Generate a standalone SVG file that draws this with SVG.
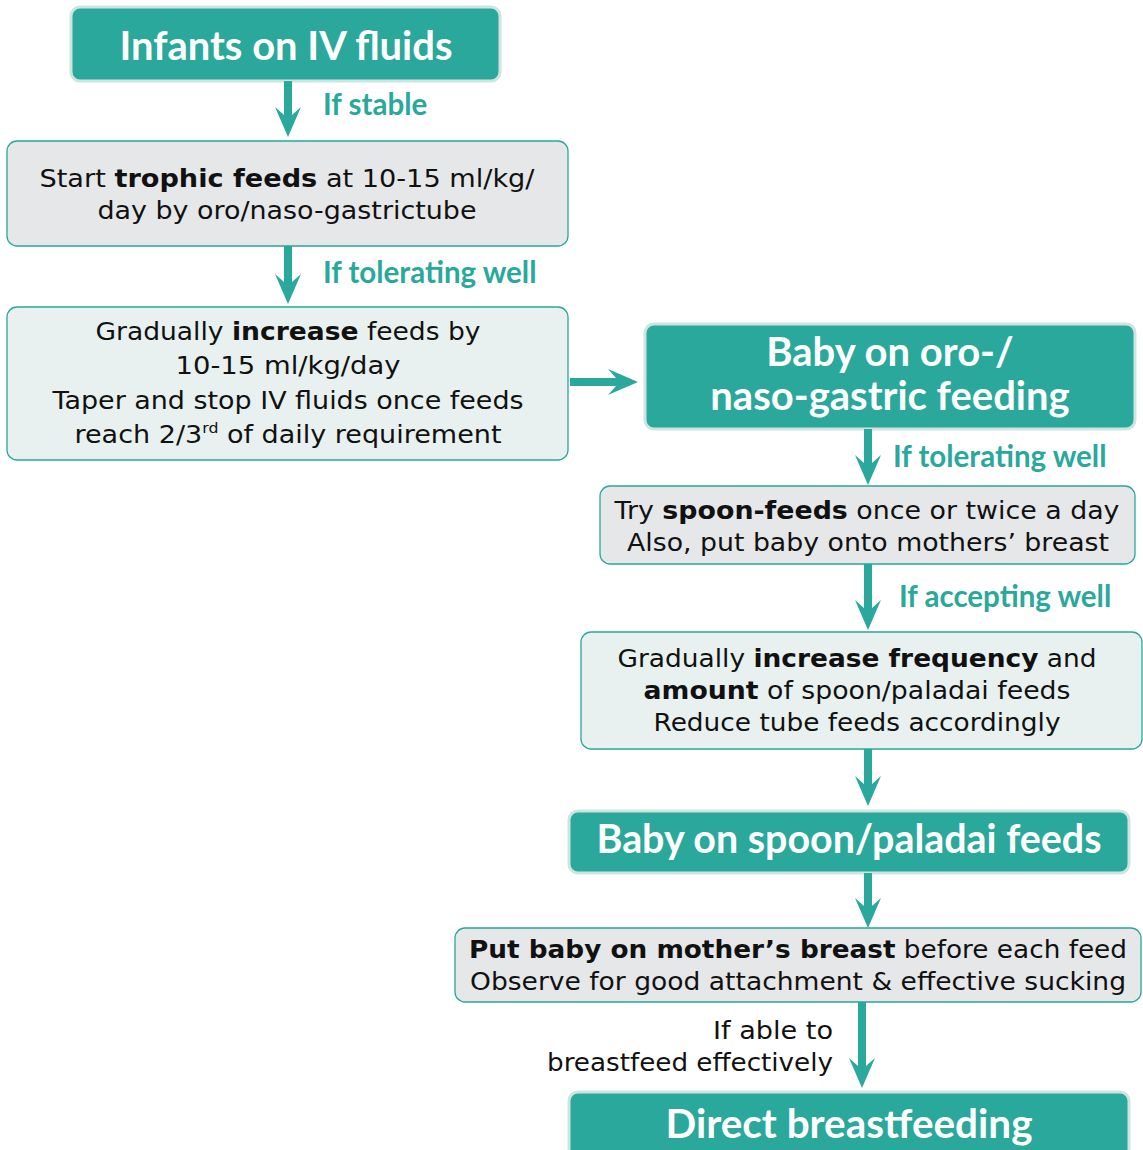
<svg xmlns="http://www.w3.org/2000/svg" width="1143" height="1150" viewBox="0 0 1143 1150">
<style>
.dark{fill:#29a89b;stroke:#cde4e1;stroke-width:3}
.grey{fill:#e6e7e9;stroke:#29a89b;stroke-width:1.3}
.light{fill:#e8f1f0;stroke:#29a89b;stroke-width:1.3}
.h{font-family:Lato,"Open Sans",sans-serif;font-weight:700;font-size:40px;fill:#ffffff;text-anchor:middle}
.b{font-family:"DejaVu Sans",Verdana,sans-serif;font-size:24px;fill:#111111;text-anchor:middle}
.bb{font-weight:700}
.lab{font-family:Lato,"Open Sans",sans-serif;font-weight:700;font-size:29.5px;fill:#29a89b}
.arr{fill:#29a89b}
.lb{font-family:"DejaVu Sans",Verdana,sans-serif;font-size:24px;fill:#111111;text-anchor:end}
</style>
<g id="n1"><rect class="dark" x="71" y="7" width="429" height="74" rx="9"/><text class="h" x="286" y="60" textLength="333" lengthAdjust="spacingAndGlyphs">Infants on IV fluids</text></g>
<g id="n2"><rect class="grey" x="7" y="141" width="561" height="105" rx="10"/>
<text class="b" x="287" y="187" textLength="495" lengthAdjust="spacingAndGlyphs">Start <tspan class="bb">trophic feeds</tspan> at 10-15 ml/kg/</text>
<text class="b" x="287" y="219" textLength="379" lengthAdjust="spacingAndGlyphs">day by oro/naso-gastrictube</text></g>
<g id="n3"><rect class="light" x="7" y="307" width="561" height="153" rx="10"/>
<text class="b" x="288" y="340" textLength="385" lengthAdjust="spacingAndGlyphs">Gradually <tspan class="bb">increase</tspan> feeds by</text>
<text class="b" x="288" y="374" textLength="225" lengthAdjust="spacingAndGlyphs">10-15 ml/kg/day</text>
<text class="b" x="288" y="409" textLength="471" lengthAdjust="spacingAndGlyphs">Taper and stop IV fluids once feeds</text>
<text class="b" x="288" y="443" textLength="427" lengthAdjust="spacingAndGlyphs">reach 2/3<tspan font-size="14" dy="-10">rd</tspan><tspan dy="10"> of daily requirement</tspan></text></g>
<g id="n4"><rect class="dark" x="645" y="324" width="490" height="105" rx="9"/>
<text class="h" x="890" y="366">Baby on oro-/</text>
<text class="h" x="890" y="410">naso-gastric feeding</text></g>
<g id="n5"><rect class="grey" x="600" y="486" width="535" height="78" rx="10"/>
<text class="b" x="867" y="519" textLength="505" lengthAdjust="spacingAndGlyphs">Try <tspan class="bb">spoon-feeds</tspan> once or twice a day</text>
<text class="b" x="868" y="551" textLength="482" lengthAdjust="spacingAndGlyphs">Also, put baby onto mothers’ breast</text></g>
<g id="n6"><rect class="light" x="581" y="632" width="561" height="117" rx="10"/>
<text class="b" x="857" y="667" textLength="479" lengthAdjust="spacingAndGlyphs">Gradually <tspan class="bb">increase frequency</tspan> and</text>
<text class="b" x="857" y="699" textLength="427" lengthAdjust="spacingAndGlyphs"><tspan class="bb">amount</tspan> of spoon/paladai feeds</text>
<text class="b" x="857" y="731" textLength="407" lengthAdjust="spacingAndGlyphs">Reduce tube feeds accordingly</text></g>
<g id="n7"><rect class="dark" x="569" y="811" width="560" height="62" rx="9"/>
<text class="h" x="849" y="853" textLength="505" lengthAdjust="spacingAndGlyphs">Baby on spoon/paladai feeds</text></g>
<g id="n8"><rect class="grey" x="455" y="928" width="686" height="74" rx="10"/>
<text class="b" x="798" y="958" textLength="658" lengthAdjust="spacingAndGlyphs"><tspan class="bb">Put baby on mother’s breast</tspan> before each feed</text>
<text class="b" x="798" y="990" textLength="656" lengthAdjust="spacingAndGlyphs">Observe for good attachment &amp; effective sucking</text></g>
<g id="n9"><rect class="dark" x="569" y="1092" width="560" height="75" rx="9"/>
<text class="h" x="849" y="1138" textLength="367" lengthAdjust="spacingAndGlyphs">Direct breastfeeding</text></g>
<g id="connectors">
<path class="arr" d="M284,81 H292 V115 L301,107 L288,137 L275,107 L284,115 Z"/>
<path class="arr" d="M284,246 H292 V282 L301,274 L288,304 L275,274 L284,282 Z"/>
<path class="arr" d="M570,378 H616 L608,369 L638,382 L608,395 L616,386 H570 Z"/>
<path class="arr" d="M864,429 H872 V463 L881,455 L868,485 L855,455 L864,463 Z"/>
<path class="arr" d="M864,564 H872 V608 L881,600 L868,630 L855,600 L864,608 Z"/>
<path class="arr" d="M864,749 H872 V784 L881,776 L868,806 L855,776 L864,784 Z"/>
<path class="arr" d="M864,873 H872 V906 L881,898 L868,928 L855,898 L864,906 Z"/>
<path class="arr" d="M858,1002 H866 V1066 L875,1058 L862,1088 L849,1058 L858,1066 Z"/>
<text class="lab" x="323" y="115">If stable</text>
<text class="lab" x="323" y="283">If tolerating well</text>
<text class="lab" x="893" y="467">If tolerating well</text>
<text class="lab" x="899" y="607">If accepting well</text>
<text class="lb" x="833" y="1039" textLength="120" lengthAdjust="spacingAndGlyphs">If able to</text>
<text class="lb" x="833" y="1071" textLength="286" lengthAdjust="spacingAndGlyphs">breastfeed effectively</text>
</g>
</svg>
